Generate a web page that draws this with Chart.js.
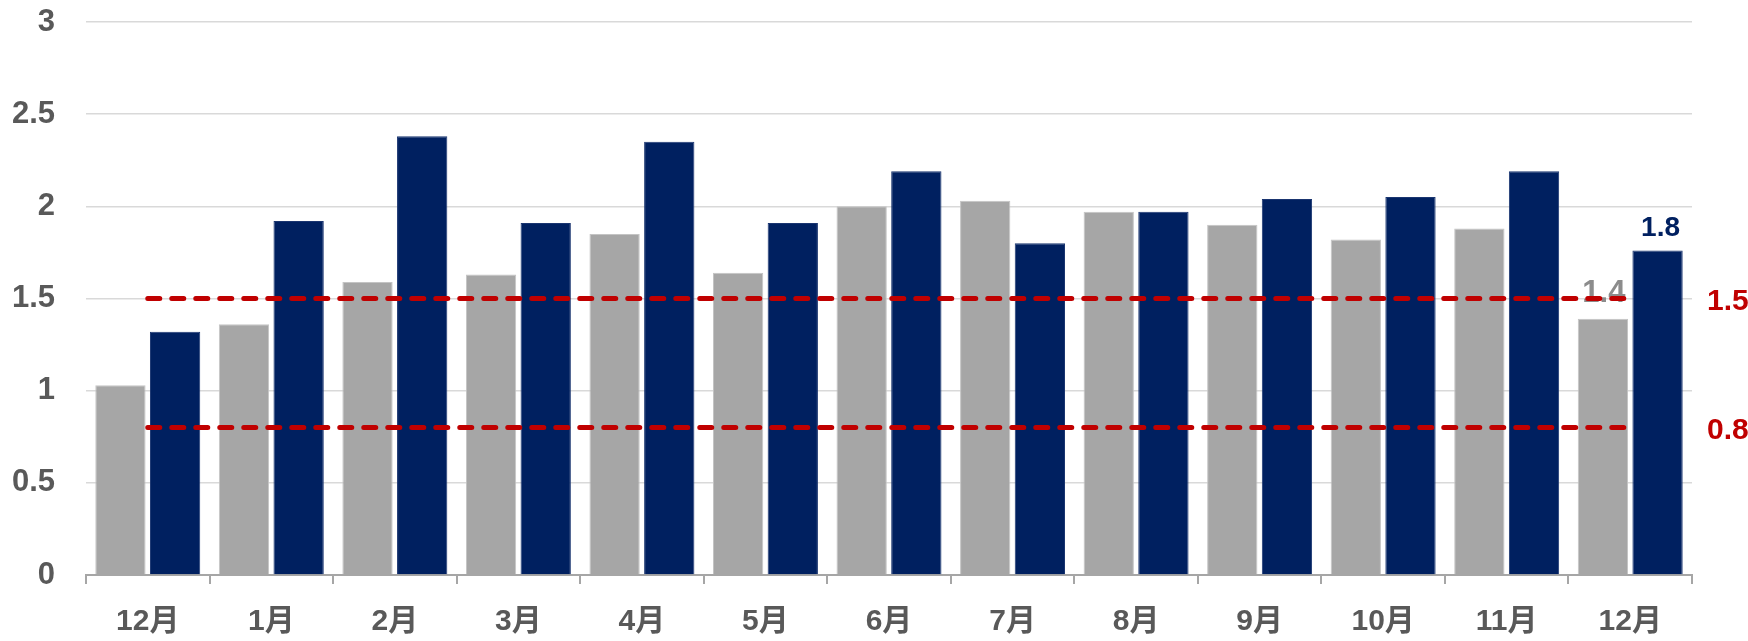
<!DOCTYPE html>
<html>
<head>
<meta charset="utf-8">
<script src="https://cdn.jsdelivr.net/npm/chart.js@4/dist/chart.umd.min.js"></script>
<style>
  html, body { margin: 0; padding: 0; background: #ffffff; }
  #wrap { width: 1748px; height: 641px; position: relative; }
</style>
</head>
<body>
<div id="wrap"><canvas id="c" width="1748" height="641"></canvas></div>
<script>
const categories = ["12月", "1月", "2月", "3月", "4月", "5月", "6月", "7月", "8月", "9月", "10月", "11月", "12月"];
const seriesGray = [1.03, 1.36, 1.59, 1.63, 1.85, 1.64, 2.00, 2.03, 1.97, 1.90, 1.82, 1.88, 1.39];
const seriesNavy = [1.32, 1.92, 2.38, 1.91, 2.35, 1.91, 2.19, 1.80, 1.97, 2.04, 2.05, 2.19, 1.76];
const upperRef = [1.5, 1.5, 1.5, 1.5, 1.5, 1.5, 1.5, 1.5, 1.5, 1.5, 1.5, 1.5, 1.5];
const lowerRef = [0.8, 0.8, 0.8, 0.8, 0.8, 0.8, 0.8, 0.8, 0.8, 0.8, 0.8, 0.8, 0.8];
const yTicks = [0, 0.5, 1, 1.5, 2, 2.5, 3];
const lastGrayLabel = "1.4";
const lastNavyLabel = "1.8";
const refLabels = ["1.5", "0.8"];

const FONT = "'Liberation Sans', Arial, 'Noto Sans CJK SC', sans-serif";
const GRAY = "#A6A6A6";
const NAVY = "#002060";
const RED = "#C00000";

const labelsPlugin = {
  id: 'customLabels',
  afterDatasetsDraw(chart) {
    const ctx = chart.ctx;
    ctx.save();
    ctx.font = "bold 28px " + FONT;
    ctx.textAlign = "center";
    ctx.textBaseline = "alphabetic";
    const metaNavy = chart.getDatasetMeta(1);
    const lastN = metaNavy.data[metaNavy.data.length - 1];
    ctx.fillStyle = NAVY;
    ctx.fillText(lastNavyLabel, lastN.x + 3, lastN.y - 15);
    const ys = chart.scales.y;
    ctx.font = "bold 30px " + FONT;
    ctx.fillStyle = RED;
    ctx.textAlign = "left";
    ctx.textBaseline = "middle";
    ctx.fillText(refLabels[0], chart.chartArea.right + 15, ys.getPixelForValue(upperRef[0]) + 3);
    ctx.fillText(refLabels[1], chart.chartArea.right + 15, ys.getPixelForValue(lowerRef[0]) + 3);
    ctx.restore();
  },
  afterDatasetDraw(chart, args) {
    if (args.index !== 0) return;
    const ctx = chart.ctx;
    const meta = chart.getDatasetMeta(0);
    const last = meta.data[meta.data.length - 1];
    ctx.save();
    ctx.font = "bold 31px " + FONT;
    ctx.textAlign = "center";
    ctx.textBaseline = "alphabetic";
    ctx.fillStyle = "#8C8C8C";
    ctx.fillText(lastGrayLabel, last.x + 1, last.y - 17);
    ctx.restore();
  }
};

new Chart(document.getElementById('c'), {
  type: 'bar',
  data: {
    labels: categories,
    datasets: [
      { type: 'bar', data: seriesGray, backgroundColor: GRAY, borderColor: "#C4C4C4", borderWidth: 1, order: 2,
        categoryPercentage: 0.885, barPercentage: 0.92 },
      { type: 'bar', data: seriesNavy, backgroundColor: NAVY, borderColor: "#1a3570", borderWidth: 1, order: 2,
        categoryPercentage: 0.885, barPercentage: 0.92 },
      { type: 'line', data: upperRef, borderColor: RED, borderWidth: 5, borderDash: [12, 12], borderCapStyle: 'round',
        pointRadius: 0, fill: false, order: 1 },
      { type: 'line', data: lowerRef, borderColor: RED, borderWidth: 5, borderDash: [12, 12], borderCapStyle: 'round',
        pointRadius: 0, fill: false, order: 1 }
    ]
  },
  options: {
    responsive: false,
    animation: false,
    devicePixelRatio: 1,
    layout: { padding: { top: 22, right: 56, left: 0, bottom: 0 } },
    plugins: { legend: { display: false }, tooltip: { enabled: false } },
    scales: {
      x: {
        offset: true,
        grid: { display: true, drawOnChartArea: false, drawTicks: true, tickLength: 9, color: "#A6A6A6", lineWidth: 2, offset: true },
        border: { display: true, color: "#A6A6A6", width: 2 },
        ticks: { color: "#595959", font: { family: FONT, size: 30, weight: 'bold' }, padding: 20, maxRotation: 0 },
        afterFit(scale) { scale.height = 66; }
      },
      y: {
        min: 0, max: 3,
        afterBuildTicks(scale) { scale.ticks = yTicks.map(v => ({ value: v })); },
        grid: { color: "#D9D9D9", lineWidth: 1.5, drawTicks: false },
        border: { display: false },
        ticks: { color: "#595959", font: { family: FONT, size: 31, weight: 'bold' }, padding: 31,
          callback: v => String(v) },
        afterFit(scale) { scale.width = 86; scale.paddingTop = 0; scale.paddingBottom = 0; }
      }
    }
  },
  plugins: [labelsPlugin]
});
</script>
</body>
</html>
